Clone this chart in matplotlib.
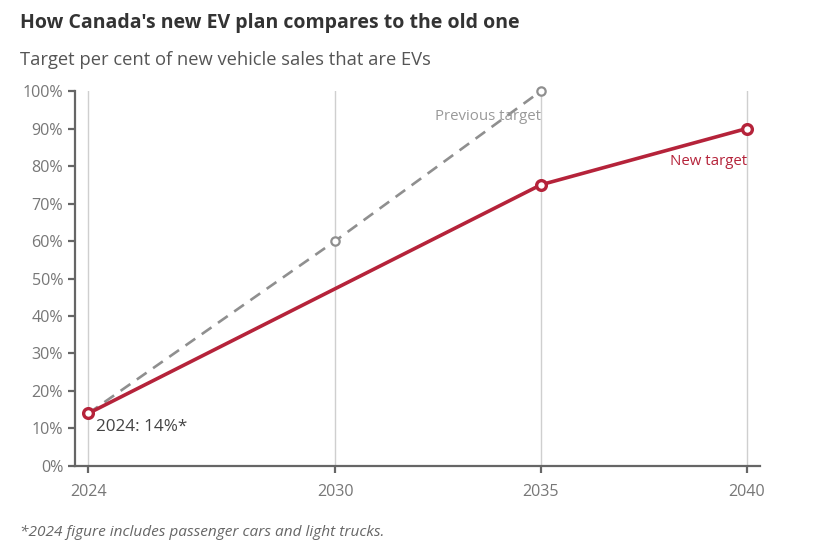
import matplotlib.pyplot as plt
from matplotlib.ticker import FuncFormatter

# Dados do gráfico
anos_novo = [2024, 2035, 2040]
meta_nova = [14, 75, 90]
anos_antigo = [2024, 2030, 2035]
meta_antiga = [14, 60, 100]
anos_ticks = [2024, 2030, 2035, 2040]
y_ticks = list(range(0, 101, 10))

vermelho = '#b5233a'
cinza = '#8f8f8f'

plt.rcParams['font.family'] = ['Open Sans', 'DejaVu Sans']

fig = plt.figure(figsize=(8.15, 5.44), dpi=100)
ax = fig.add_axes([0.092, 0.1434, 0.8405, 0.6893])

# linhas verticais de grade
for ano in anos_ticks:
    ax.axvline(ano, color='#cfcfcf', lw=1, zorder=0)

ax.plot(anos_antigo, meta_antiga, color=cinza, lw=1.9, ls=(0, (4.5, 3)),
        marker='o', ms=6, mfc='white', mec=cinza, mew=1.6, zorder=2,
        clip_on=False)
ax.plot(anos_novo, meta_nova, color=vermelho, lw=2.6,
        marker='o', ms=7, mfc='white', mec=vermelho, mew=2.4, zorder=3,
        clip_on=False)

ax.set_xlim(2023.68, 2040.32)
ax.set_ylim(0, 100)
ax.set_xticks(anos_ticks)
ax.set_yticks(y_ticks)
ax.yaxis.set_major_formatter(FuncFormatter(lambda v, p: f'{v:.0f}%'))

for lado in ['top', 'right']:
    ax.spines[lado].set_visible(False)
for lado in ['left', 'bottom']:
    ax.spines[lado].set_color('#666666')
    ax.spines[lado].set_linewidth(1.6)
ax.tick_params(axis='both', colors='#666666', labelcolor='#777777',
               labelsize=11.6, width=1.6, length=5)
ax.tick_params(axis='x', pad=8)

# rótulos das séries
ax.text(2035, 93.3, 'Previous target', color='#999999', fontsize=10.8,
        ha='right', va='center')
ax.text(2040, 81.3, 'New target', color=vermelho, fontsize=10.8,
        ha='right', va='center')
ax.text(2024.18, 10.5, '2024: 14%*', color='#444444', fontsize=12.3,
        ha='left', va='center')

fig.text(0.025, 0.958, "How Canada's new EV plan compares to the old one",
         fontsize=14, fontweight='bold', color='#333333', va='center')
fig.text(0.025, 0.89, 'Target per cent of new vehicle sales that are EVs',
         fontsize=13.2, color='#555555', va='center')
fig.text(0.025, 0.022, '*2024 figure includes passenger cars and light trucks.',
         fontsize=11.1, style='italic', color='#666666', va='center')

fig.savefig('out.png', dpi=100)
